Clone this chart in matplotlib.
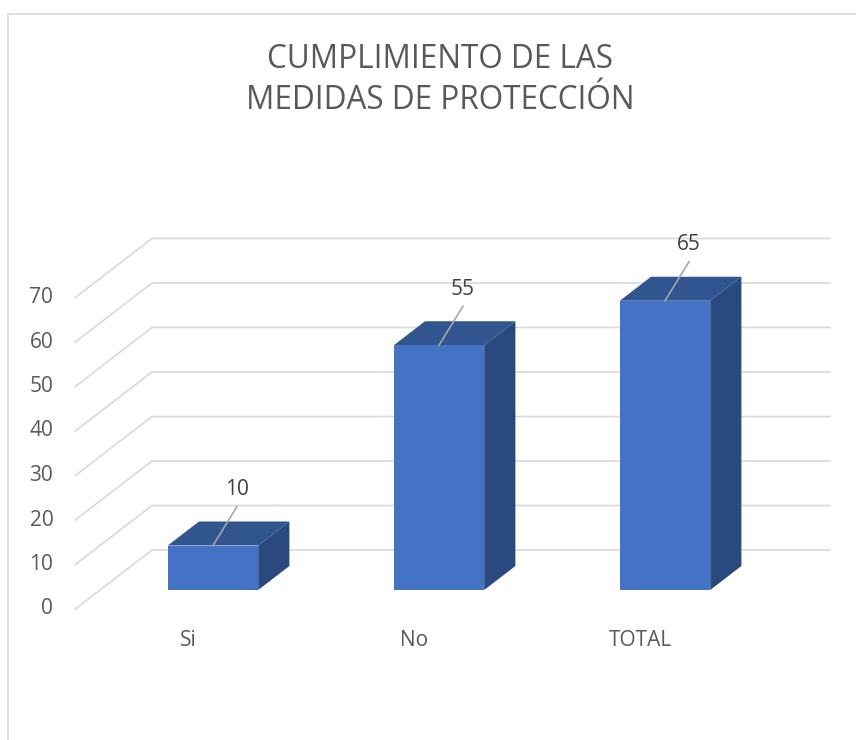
import matplotlib
matplotlib.use("Agg")
import matplotlib.pyplot as plt
from matplotlib.patches import Polygon, Rectangle

# Chart data
categories = ["Si", "No", "TOTAL"]
values = [10, 55, 65]
y_ticks = [0, 10, 20, 30, 40, 50, 60, 70]
title = "CUMPLIMIENTO DE LAS\nMEDIDAS DE PROTECCIÓN"

# Colours
front_col = "#4472C4"
top_col = "#30558F"
side_col = "#2A4A7F"
grid_col = "#D9D9D9"
text_col = "#595959"

W, H, DPI = 856, 740, 100
fig = plt.figure(figsize=(W / DPI, H / DPI), dpi=DPI)
fig.patch.set_facecolor("white")
plt.rcParams["font.family"] = ["Open Sans", "DejaVu Sans"]

# axes = plane of the bar front faces
ax_w, ax_h = 678, 311.5
ax = fig.add_axes([100 / W, (H - 590) / H, ax_w / W, ax_h / H])
ax.set_xlim(-0.5, 2.5)
ax.set_ylim(0, 70)
ax.axis("off")

sx = ax_w / 3.0    # pixels per category unit
sy = ax_h / 70.0   # pixels per value unit

k = 1.3          # oblique slope (dx per dy, pixels)
d_back = 40      # back wall depth (px)
d_front = -19    # floor front edge depth (px)
d_bar = 24       # bar depth (px)
bar_w = 0.4


def depth(x, y, d):
    """Shift a point (data coords) back by d pixels of oblique depth."""
    return (x + k * d / sx, y + d / sy)


# gridlines: side wall diagonal + back wall
for v in y_ticks:
    pts = [depth(-0.5, v, d_front), depth(-0.5, v, d_back), depth(2.5, v, d_back)]
    ax.plot([p[0] for p in pts], [p[1] for p in pts], color=grid_col,
            lw=1.2, clip_on=False, zorder=1)
    tx, ty = depth(-0.5, v, d_front)
    ax.text(tx - 22 / sx, ty, str(v), ha="right", va="center",
            fontsize=15, color=text_col)

# 3D bars
for i, (cat, v) in enumerate(zip(categories, values)):
    x0, x1 = i - bar_w / 2, i + bar_w / 2
    side = [(x1, 0), depth(x1, 0, d_bar), depth(x1, v, d_bar), (x1, v)]
    top = [(x0, v), (x1, v), depth(x1, v, d_bar), depth(x0, v, d_bar)]
    ax.add_patch(Polygon(side, closed=True, facecolor=side_col,
                         edgecolor="none", clip_on=False, zorder=3))
    ax.add_patch(Polygon(top, closed=True, facecolor=top_col,
                         edgecolor="none", clip_on=False, zorder=3))
    ax.add_patch(Rectangle((x0, 0), bar_w, v, facecolor=front_col,
                           edgecolor="none", clip_on=False, zorder=3))
    # leader line and value label
    ax.plot([i, i + 24 / sx], [v, v + 39 / sy], color="#A6A6A6", lw=1.2,
            clip_on=False, zorder=4)
    ax.text(i + 24 / sx, v + 56 / sy, str(v), ha="center", va="center",
            fontsize=15, color="#404040", zorder=5)
    # category label
    cx, cy = depth(i, 0, d_front)
    ax.text(cx, cy - 31 / sy, cat, ha="center", va="center",
            fontsize=15, color=text_col)

fig.text(440 / W, 1 - 80 / H, title, ha="center", va="center",
         fontsize=22.7, color=text_col, linespacing=1.3)

# chart border
fig.add_artist(Rectangle((8, -20), W + 40, H - 14 + 20, transform=None,
                         fill=False, edgecolor="#D9D9D9", lw=1.2))

fig.savefig("out.png", dpi=DPI, facecolor="white")
